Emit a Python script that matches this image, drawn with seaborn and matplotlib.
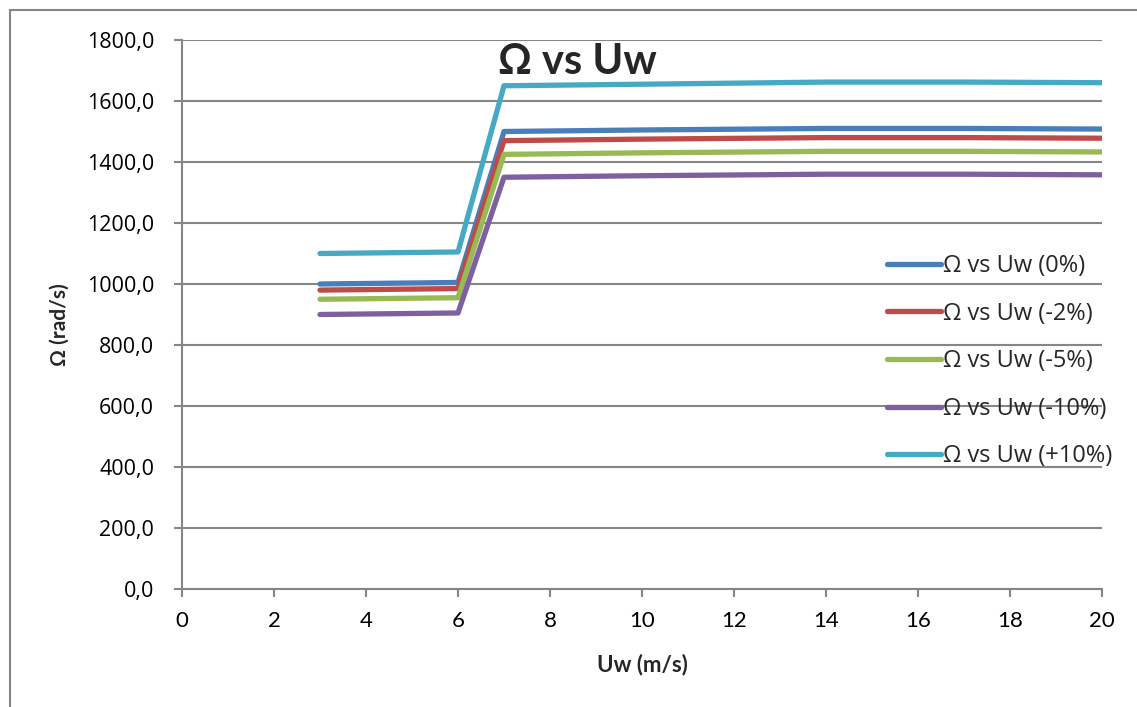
import matplotlib
matplotlib.use("Agg")
import matplotlib.pyplot as plt
import seaborn as sns
import pandas as pd

# Data
uw = [3, 6, 7, 10, 14, 17, 20]
omega_0 = [1000, 1005, 1500, 1505, 1510, 1510, 1508]
omega_m2 = [980, 985, 1470, 1475, 1480, 1480, 1478]
omega_m5 = [950, 955, 1425, 1430, 1435, 1435, 1433]
omega_m10 = [900, 905, 1350, 1355, 1360, 1360, 1358]
omega_p10 = [1100, 1105, 1650, 1655, 1662, 1662, 1660]
series_names = ["Ω vs Uw (0%)", "Ω vs Uw (-2%)", "Ω vs Uw (-5%)",
                "Ω vs Uw (-10%)", "Ω vs Uw (+10%)"]
x_ticks = list(range(0, 21, 2))
y_ticks = list(range(0, 1801, 200))

colors = ["#4A7EBB", "#BE4B48", "#98B954", "#7D60A0", "#46AAC5"]

rows = []
for name, vals in zip(series_names, [omega_0, omega_m2, omega_m5, omega_m10, omega_p10]):
    for x, y in zip(uw, vals):
        rows.append({"Uw": x, "Omega": y, "series": name})
df = pd.DataFrame(rows)

sns.set_style("white")
plt.rcParams["font.family"] = ["Open Sans", "DejaVu Sans"]

W, H = 1137, 707
fig = plt.figure(figsize=(W / 100, H / 100), dpi=100)
ax = fig.add_axes([182 / W, 1 - 589 / H, (1102 - 182) / W, (589 - 40) / H])

sns.lineplot(data=df, x="Uw", y="Omega", hue="series", hue_order=series_names,
             palette=colors, linewidth=3.8, ax=ax, sort=False,
             solid_capstyle="round", solid_joinstyle="round", legend=True)

ax.set_xlim(0, 20)
ax.set_ylim(0, 1800)
ax.set_xticks(x_ticks)
ax.set_yticks(y_ticks)
ax.set_xticklabels([str(t) for t in x_ticks], family=["Lato", "DejaVu Sans"])
ax.set_yticklabels([f"{t:.1f}".replace(".", ",") for t in y_ticks],
                   family=["Open Sans", "DejaVu Sans"])
ax.grid(axis="y", color="#868686", linewidth=1.5)
ax.set_axisbelow(True)
for s in ["top", "right"]:
    ax.spines[s].set_visible(False)
for s in ["left", "bottom"]:
    ax.spines[s].set_color("#868686")
    ax.spines[s].set_linewidth(1.5)
ax.tick_params(axis="both", colors="#868686", width=1.5, length=6, direction="out",
               labelcolor="black", left=True, bottom=True)
ax.tick_params(axis="x", pad=10, labelsize=16)
ax.tick_params(axis="y", pad=14, labelsize=15.5)

ax.set_xlabel("Uw (m/s)", fontsize=16, fontweight="bold", family=["Lato", "DejaVu Sans"])
ax.xaxis.set_label_coords(642 / W, 1 - 665 / H, transform=fig.transFigure)
ax.set_ylabel("Ω (rad/s)", fontsize=15, fontweight="bold", family=["Lato", "DejaVu Sans"])
ax.yaxis.set_label_coords(60 / W, 1 - 325 / H, transform=fig.transFigure)
ax.xaxis.label.set_va("center")
ax.yaxis.label.set_va("center")

fig.text(577 / W, 1 - 62 / H, "Ω vs Uw", fontsize=30, fontweight="bold",
         family=["Lato", "DejaVu Sans"], ha="center", va="center")

leg = ax.legend(loc="upper left", bbox_to_anchor=(887 / W, 1 - 254 / H),
                bbox_transform=fig.transFigure, frameon=False, fontsize=17,
                handlelength=2.3, handletextpad=0.08, labelspacing=1.0,
                borderaxespad=0, borderpad=0)
for line in leg.get_lines():
    line.set_linewidth(3.8)
    line.set_solid_capstyle("round")

# chart border
fig.add_artist(plt.Rectangle((10 / W, -0.1), 1.2, 1 - 10 / H + 0.1,
                             transform=fig.transFigure, fill=False,
                             edgecolor="#868686", linewidth=1.5))

fig.savefig("out.png", dpi=100)
